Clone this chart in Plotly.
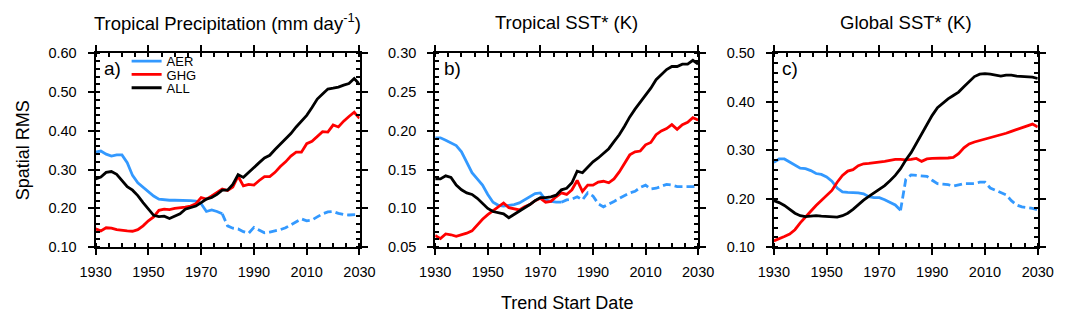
import plotly.graph_objects as go

W, H = 1079, 321

years = list(range(1930, 2031, 2))
split_year = 1978

# Panel a: Tropical Precipitation
aer_a = [0.345, 0.348, 0.340, 0.335, 0.338, 0.338, 0.318, 0.285, 0.266, 0.255,
         0.245, 0.232, 0.224, 0.222, 0.221, 0.221, 0.221, 0.220, 0.220, 0.219,
         0.212, 0.192, 0.196, 0.192, 0.186, 0.155, 0.149, 0.147, 0.140, 0.136,
         0.151, 0.145, 0.137, 0.139, 0.142, 0.145, 0.150, 0.158, 0.165, 0.173,
         0.168, 0.170, 0.178, 0.186, 0.191, 0.192, 0.187, 0.184, 0.183, 0.184,
         0.185]
ghg_a = [0.147, 0.142, 0.150, 0.149, 0.145, 0.143, 0.142, 0.141, 0.145, 0.155,
         0.168, 0.178, 0.195, 0.198, 0.197, 0.200, 0.201, 0.203, 0.206, 0.212,
         0.228, 0.224, 0.232, 0.242, 0.250, 0.246, 0.255, 0.283, 0.258, 0.262,
         0.260, 0.272, 0.282, 0.282, 0.293, 0.308, 0.320, 0.335, 0.345, 0.345,
         0.367, 0.373, 0.385, 0.398, 0.397, 0.415, 0.410, 0.425, 0.437, 0.448,
         0.432]
all_a = [0.276, 0.281, 0.293, 0.295, 0.288, 0.272, 0.256, 0.247, 0.233, 0.215,
         0.198, 0.182, 0.179, 0.180, 0.174, 0.180, 0.186, 0.198, 0.203, 0.206,
         0.215, 0.224, 0.228, 0.236, 0.247, 0.247, 0.262, 0.287, 0.280, 0.293,
         0.307, 0.318, 0.330, 0.337, 0.352, 0.365, 0.378, 0.393, 0.410, 0.425,
         0.440, 0.460, 0.482, 0.495, 0.508, 0.510, 0.513, 0.518, 0.522, 0.535,
         0.520]

# Panel b: Tropical SST*
aer_b = [0.191, 0.191, 0.188, 0.185, 0.181, 0.173, 0.160, 0.146, 0.138, 0.130,
         0.118, 0.108, 0.104, 0.103, 0.104, 0.105, 0.107, 0.111, 0.115, 0.119,
         0.120, 0.111, 0.109, 0.108, 0.108, 0.111, 0.112, 0.115, 0.111, 0.120,
         0.116, 0.106, 0.102, 0.105, 0.109, 0.113, 0.117, 0.120, 0.122, 0.127,
         0.130, 0.125, 0.126, 0.129, 0.131, 0.130, 0.128, 0.128, 0.128, 0.128,
         0.129]
ghg_b = [0.065, 0.061, 0.067, 0.066, 0.064, 0.066, 0.068, 0.071, 0.079, 0.086,
         0.092, 0.097, 0.103, 0.107, 0.101, 0.099, 0.098, 0.102, 0.105, 0.110,
         0.113, 0.108, 0.109, 0.115, 0.120, 0.118, 0.124, 0.136, 0.122, 0.130,
         0.130, 0.134, 0.135, 0.133, 0.138, 0.147, 0.158, 0.169, 0.173, 0.174,
         0.182, 0.185, 0.195, 0.200, 0.203, 0.208, 0.202, 0.208, 0.211, 0.217,
         0.214]
all_b = [0.138, 0.138, 0.142, 0.140, 0.130, 0.124, 0.120, 0.118, 0.113, 0.106,
         0.100, 0.096, 0.094, 0.093, 0.088, 0.092, 0.097, 0.100, 0.105, 0.110,
         0.114, 0.114, 0.115, 0.117, 0.124, 0.126, 0.133, 0.148, 0.146, 0.153,
         0.160, 0.165, 0.171, 0.177, 0.186, 0.195, 0.206, 0.218, 0.228, 0.237,
         0.245, 0.255, 0.266, 0.272, 0.279, 0.283, 0.283, 0.286, 0.286, 0.291,
         0.286]

# Panel c: Global SST*
aer_c = [0.275, 0.282, 0.282, 0.276, 0.270, 0.263, 0.262, 0.258, 0.252, 0.250,
         0.245, 0.236, 0.222, 0.214, 0.213, 0.213, 0.212, 0.210, 0.204, 0.202,
         0.202, 0.198, 0.193, 0.187, 0.176, 0.240, 0.249, 0.248, 0.248, 0.246,
         0.238, 0.231, 0.230, 0.229, 0.226, 0.228, 0.231, 0.231, 0.231, 0.234,
         0.234, 0.222, 0.217, 0.213, 0.208, 0.196, 0.187, 0.183, 0.182, 0.180,
         0.177]
ghg_c = [0.113, 0.117, 0.122, 0.127, 0.136, 0.150, 0.161, 0.174, 0.186, 0.196,
         0.205, 0.217, 0.234, 0.248, 0.257, 0.260, 0.268, 0.272, 0.273, 0.274,
         0.276, 0.277, 0.279, 0.281, 0.281, 0.280, 0.281, 0.283, 0.277, 0.282,
         0.283, 0.283, 0.283, 0.284, 0.285, 0.293, 0.305, 0.313, 0.317, 0.320,
         0.322, 0.325, 0.329, 0.331, 0.335, 0.339, 0.343, 0.346, 0.351, 0.354,
         0.348]
all_c = [0.196, 0.192, 0.186, 0.178, 0.170, 0.165, 0.163, 0.164, 0.165, 0.164,
         0.163, 0.162, 0.162, 0.165, 0.170, 0.178, 0.188, 0.197, 0.205, 0.212,
         0.219, 0.227, 0.237, 0.248, 0.262, 0.280, 0.295, 0.315, 0.335, 0.354,
         0.372, 0.388, 0.398, 0.406, 0.413, 0.420, 0.431, 0.442, 0.452, 0.457,
         0.458, 0.457, 0.455, 0.453, 0.455, 0.455, 0.453, 0.452, 0.452, 0.451,
         0.448]

titles = ["Tropical Precipitation (mm day<sup>-1</sup>)", "Tropical SST* (K)", "Global SST* (K)"]
labels = ["a)", "b)", "c)"]
series_names = ["AER", "GHG", "ALL"]
xticks = [1930, 1950, 1970, 1990, 2010, 2030]
yranges = [[0.10, 0.60], [0.05, 0.30], [0.10, 0.50]]
ydticks = [0.10, 0.05, 0.10]
yminor = [0.02, 0.01, 0.02]

BLUE = "#3399ff"
RED = "#ff0000"
BLACK = "#000000"
FONT = "Liberation Sans, Arial, Helvetica, sans-serif"
LW = 2.8
TICKFONT = 14.5

panels = [(aer_a, ghg_a, all_a), (aer_b, ghg_b, all_b), (aer_c, ghg_c, all_c)]

# plot-area pixel geometry
xdoms = [(82, 354), (432, 703), (781, 1053)]
ytop, ybot = 47.7, 251.7
legend_rows = [56, 70, 84]  # pixel centre of each legend row
legend_ids = ["legend", "legend2", "legend3"]

fig = go.Figure()
k = years.index(split_year)
for i, (aer, ghg, allv) in enumerate(panels):
    xa = "x" if i == 0 else f"x{i+1}"
    ya = "y" if i == 0 else f"y{i+1}"
    show = (i == 0)
    fig.add_trace(go.Scatter(x=years[:k+1], y=aer[:k+1], mode="lines", name=series_names[0],
                             line=dict(color=BLUE, width=LW), xaxis=xa, yaxis=ya,
                             showlegend=show, legend=legend_ids[0]))
    fig.add_trace(go.Scatter(x=years[k:], y=aer[k:], mode="lines", name=series_names[0],
                             line=dict(color=BLUE, width=LW, dash="8px,4px"), xaxis=xa, yaxis=ya,
                             showlegend=False))
    fig.add_trace(go.Scatter(x=years, y=ghg, mode="lines", name=series_names[1],
                             line=dict(color=RED, width=LW), xaxis=xa, yaxis=ya,
                             showlegend=show, legend=legend_ids[1]))
    fig.add_trace(go.Scatter(x=years, y=allv, mode="lines", name=series_names[2],
                             line=dict(color=BLACK, width=LW), xaxis=xa, yaxis=ya,
                             showlegend=show, legend=legend_ids[2]))

layout = dict(
    width=W, height=H,
    margin=dict(l=0, r=0, t=0, b=0),
    paper_bgcolor="white", plot_bgcolor="white",
    font=dict(family=FONT, color="black", size=TICKFONT),
    annotations=[],
)

for lid, yc in zip(legend_ids, legend_rows):
    layout[lid] = dict(x=114 / W, y=1 - yc / H, xanchor="left", yanchor="middle",
                       bgcolor="rgba(0,0,0,0)", borderwidth=0, itemwidth=30,
                       font=dict(size=13, family=FONT, color="black"))

for i in range(3):
    sx = "" if i == 0 else str(i + 1)
    x0, x1 = xdoms[i]
    layout["xaxis" + sx] = dict(
        domain=[x0 / W, x1 / W], range=[1930, 2030], anchor="y" + sx,
        tickvals=xticks, ticks="outside", ticklen=6, tickwidth=2, tickcolor="black",
        showline=True, linewidth=2, linecolor="black", mirror="allticks",
        showgrid=False, zeroline=False, ticklabelstandoff=4,
        tickfont=dict(size=TICKFONT, family=FONT, color="black"),
        minor=dict(dtick=5, tick0=1930, ticks="inside", ticklen=4, tickwidth=1.5,
                   tickcolor="black", showgrid=False),
    )
    layout["yaxis" + sx] = dict(
        domain=[1 - ybot / H, 1 - ytop / H], range=yranges[i], anchor="x" + sx,
        dtick=ydticks[i], tick0=yranges[i][0], tickformat=".2f",
        ticks="outside", ticklen=6, tickwidth=2, tickcolor="black",
        showline=True, linewidth=2, linecolor="black", mirror="allticks",
        showgrid=False, zeroline=False, ticklabelstandoff=8,
        tickfont=dict(size=TICKFONT, family=FONT, color="black"),
        minor=dict(dtick=yminor[i], tick0=yranges[i][0], ticks="inside", ticklen=4,
                   tickwidth=1.5, tickcolor="black", showgrid=False),
    )
    layout["annotations"].append(dict(
        text=titles[i], xref="paper", yref="paper",
        x=(x0 + x1) / 2 / W, y=1 - 15 / H, xanchor="center", yanchor="middle",
        showarrow=False, font=dict(size=18.5, family=FONT, color="black")))
    layout["annotations"].append(dict(
        text=labels[i], xref=f"x{sx} domain", yref=f"y{sx} domain",
        x=0.025, y=0.92, xanchor="left", yanchor="middle",
        showarrow=False, font=dict(size=19, family=FONT, color="black")))

layout["annotations"].append(dict(
    text="Spatial RMS", xref="paper", yref="paper", x=7 / W, y=1 - 150 / H,
    xanchor="center", yanchor="middle", textangle=-90, showarrow=False,
    font=dict(size=18, family=FONT, color="black")))
layout["annotations"].append(dict(
    text="Trend Start Date", xref="paper", yref="paper", x=568 / W, y=1 - 310 / H,
    xanchor="center", yanchor="middle", showarrow=False,
    font=dict(size=18, family=FONT, color="black")))

fig.update_layout(**layout)
fig.write_html("out.html")
